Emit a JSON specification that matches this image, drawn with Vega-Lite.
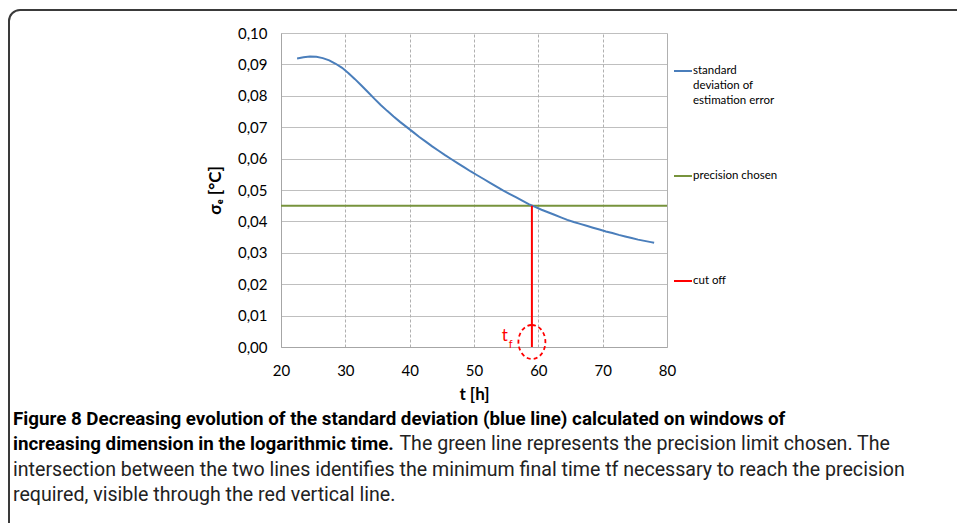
{
  "$schema": "https://vega.github.io/schema/vega-lite/v6.json",
  "width": 965,
  "height": 530,
  "autosize": "none",
  "padding": {"left": 9, "top": 10, "right": -17, "bottom": -17},
  "background": "white",
  "config": {
    "view": {"stroke": "#3a3a3a", "strokeWidth": 2, "cornerRadius": 11},
    "style": {"guide-label": {"lineHeight": 15}}
  },
  "title": {
    "text": ["Figure 8 Decreasing evolution of the standard deviation (blue line) calculated on windows of", "increasing dimension in the logarithmic time."],
    "subtitle": ["\u200b\u2003\u2003\u2003\u2003\u2003\u2003\u2003\u2003\u2003\u2003\u2003\u2003\u2003\u2003\u2003\u2003\u2003\u2003\u2003\u2004The green line represents the precision limit chosen. The", "intersection between the two lines identifies the minimum final time tf necessary to reach the precision", "required, visible through the red vertical line."],
    "orient": "bottom",
    "anchor": "start",
    "frame": "bounds",
    "offset": -121,
    "dx": 4,
    "baseline": "middle",
    "align": "left",
    "font": "Roboto",
    "fontSize": 18.75,
    "fontWeight": "bold",
    "color": "#000000",
    "lineHeight": 25.3,
    "subtitleFont": "Roboto",
    "subtitleFontSize": 19.6,
    "subtitleFontWeight": "normal",
    "subtitleColor": "#222222",
    "subtitleLineHeight": 25.3,
    "subtitlePadding": -18.75
  },
  "encoding": {
    "x": {
      "field": "t",
      "type": "quantitative",
      "scale": {"domain": [20, 80], "range": [272, 658], "nice": false, "zero": false},
      "axis": {
        "values": [20, 30, 40, 50, 60, 70, 80],
        "offset": -193,
        "grid": false,
        "ticks": true,
        "tickSize": -314,
        "tickColor": "#b0b0b0",
        "tickWidth": 1,
        "tickDash": {"condition": {"test": "datum.value == 20 || datum.value == 80", "value": []}, "value": [3, 2]},
        "domainColor": "#a6a6a6",
        "domainWidth": 1,
        "labelFont": "Lato",
        "labelFontSize": 15,
        "labelColor": "#000000",
        "labelPadding": 330,
        "labelFlush": false,
        "labelOverlap": false,
        "title": "t [h]",
        "titleFont": "Lato",
        "titleFontSize": 17,
        "titleFontWeight": "bold",
        "titleColor": "#000000",
        "titlePadding": 8
      }
    },
    "y": {
      "field": "sigma",
      "type": "quantitative",
      "scale": {"domain": [0, 0.1], "range": [337, 23], "nice": false, "zero": false},
      "axis": {
        "values": [0, 0.01, 0.02, 0.03, 0.04, 0.05, 0.06, 0.07, 0.08, 0.09, 0.1],
        "offset": -272,
        "grid": true,
        "gridColor": "#bfbfbf",
        "gridWidth": 1,
        "ticks": false,
        "domainColor": "#a6a6a6",
        "domainWidth": 1,
        "labelExpr": "replace(format(datum.value, '.2f'), '.', ',')",
        "labelFont": "Lato",
        "labelFontSize": 15,
        "labelColor": "#000000",
        "labelPadding": 14,
        "labelFlush": false,
        "labelOverlap": false,
        "title": "σₑ [°C]",
        "titleFont": "Lato",
        "titleFontSize": 17,
        "titleFontWeight": "bold",
        "titleColor": "#000000",
        "titlePadding": 13
      }
    }
  },
  "layer": [
    {
      "data": {"values": [{"t": 20, "sigma": 0.045}, {"t": 80, "sigma": 0.045}]},
      "mark": {"type": "line", "strokeWidth": 2},
      "encoding": {
        "color": {
          "datum": "precision chosen",
          "type": "nominal",
          "scale": {
            "domain": ["standard deviation of estimation error", "precision chosen", "cut off"],
            "range": ["#4a7ebb", "#77933c", "#ff0000"]
          },
          "legend": {
            "title": null,
            "orient": "none",
            "legendX": 664,
            "legendY": 51,
            "padding": 0,
            "symbolType": "stroke",
            "symbolSize": 324,
            "symbolStrokeWidth": 2,
            "labelFont": "Lato",
            "labelFontSize": 11.5,
            "labelColor": "#000000",
            "labelOffset": 0,
            "labelLimit": 200,
            "rowPadding": 59,
            "gridAlign": "all",
            "labelExpr": "datum.label == 'standard deviation of estimation error' ? ['standard', 'deviation of', 'estimation error'] : datum.label"
          }
        }
      }
    },
    {
      "data": {"values": [
        {"t": 22.5, "sigma": 0.0919}, {"t": 23.5, "sigma": 0.0923}, {"t": 24.5, "sigma": 0.0925}, {"t": 25.5, "sigma": 0.0924},
        {"t": 26.5, "sigma": 0.0920}, {"t": 27.5, "sigma": 0.0913}, {"t": 28.5, "sigma": 0.0902}, {"t": 29.5, "sigma": 0.0889},
        {"t": 30.5, "sigma": 0.0872}, {"t": 31.5, "sigma": 0.0853}, {"t": 32.5, "sigma": 0.0833}, {"t": 33.5, "sigma": 0.0812},
        {"t": 34.5, "sigma": 0.0791}, {"t": 35.5, "sigma": 0.0771}, {"t": 36.5, "sigma": 0.0752}, {"t": 37.5, "sigma": 0.0734},
        {"t": 38.5, "sigma": 0.0717}, {"t": 39.5, "sigma": 0.0701}, {"t": 40.5, "sigma": 0.0685}, {"t": 41.5, "sigma": 0.0669},
        {"t": 42.5, "sigma": 0.0654}, {"t": 43.5, "sigma": 0.0639}, {"t": 44.5, "sigma": 0.0625}, {"t": 45.5, "sigma": 0.0611},
        {"t": 46.5, "sigma": 0.0598}, {"t": 47.5, "sigma": 0.0585}, {"t": 48.5, "sigma": 0.0572}, {"t": 49.5, "sigma": 0.0559},
        {"t": 50.5, "sigma": 0.0547}, {"t": 51.5, "sigma": 0.0535}, {"t": 52.5, "sigma": 0.0523}, {"t": 53.5, "sigma": 0.0511},
        {"t": 54.5, "sigma": 0.0499}, {"t": 55.5, "sigma": 0.0488}, {"t": 56.5, "sigma": 0.0477}, {"t": 57.5, "sigma": 0.0466},
        {"t": 58.5, "sigma": 0.0455}, {"t": 59.5, "sigma": 0.0446}, {"t": 60.5, "sigma": 0.0437}, {"t": 61.5, "sigma": 0.0429},
        {"t": 62.5, "sigma": 0.0421}, {"t": 63.5, "sigma": 0.0413}, {"t": 64.5, "sigma": 0.0405}, {"t": 65.5, "sigma": 0.0398},
        {"t": 66.5, "sigma": 0.0392}, {"t": 67.5, "sigma": 0.0386}, {"t": 68.5, "sigma": 0.0380}, {"t": 69.5, "sigma": 0.0374},
        {"t": 70.5, "sigma": 0.0368}, {"t": 71.5, "sigma": 0.0363}, {"t": 72.5, "sigma": 0.0357}, {"t": 73.5, "sigma": 0.0352},
        {"t": 74.5, "sigma": 0.0347}, {"t": 75.5, "sigma": 0.0342}, {"t": 76.5, "sigma": 0.0338}, {"t": 77.5, "sigma": 0.0334},
        {"t": 78, "sigma": 0.0332}
      ]},
      "mark": {"type": "line", "strokeWidth": 2},
      "encoding": {"color": {"datum": "standard deviation of estimation error", "type": "nominal"}}
    },
    {
      "data": {"values": [{"t": 59, "sigma": 0.045, "sigma2": 0}]},
      "mark": {"type": "rule", "strokeWidth": 2},
      "encoding": {"y2": {"field": "sigma2"}, "color": {"datum": "cut off", "type": "nominal"}}
    },
    {
      "data": {"values": [{"t": 59, "sigma": 0.0016}]},
      "mark": {
        "type": "point",
        "shape": "M0,-1C0.4385,-1 0.794,-0.552 0.794,0C0.794,0.552 0.4385,1 0,1C-0.4385,1 -0.794,0.552 -0.794,0C-0.794,-0.552 -0.4385,-1 0,-1Z",
        "size": 1156,
        "filled": false,
        "stroke": "#ff0000",
        "strokeWidth": 1.8,
        "strokeDash": [4, 3],
        "opacity": 1
      }
    },
    {
      "data": {"values": [{"t": 54.8, "sigma": 0.0035, "label": "t"}]},
      "mark": {"type": "text", "color": "#ff0000", "font": "Lato", "fontSize": 17, "align": "center", "baseline": "middle"},
      "encoding": {"text": {"field": "label"}}
    },
    {
      "data": {"values": [{"t": 55.7, "sigma": 0.0006, "label": "f"}]},
      "mark": {"type": "text", "color": "#ff0000", "font": "Lato", "fontSize": 11, "align": "center", "baseline": "middle"},
      "encoding": {"text": {"field": "label"}}
    }
  ]
}
